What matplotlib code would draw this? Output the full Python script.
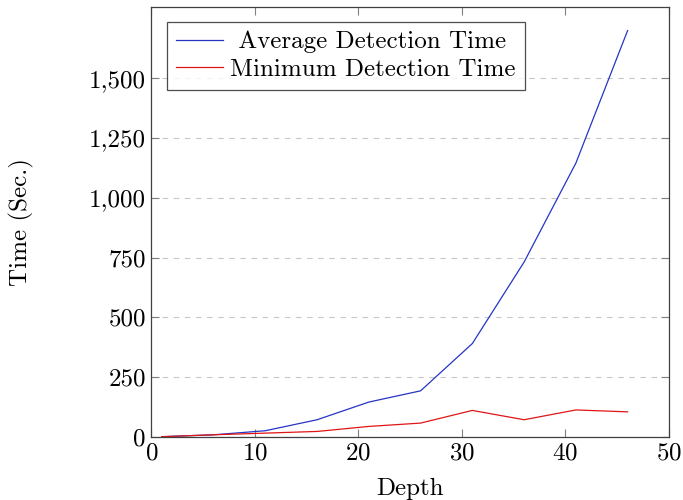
import matplotlib
matplotlib.use('Agg')
import matplotlib.pyplot as plt
from matplotlib.ticker import FuncFormatter, MultipleLocator, FixedLocator

# values
depth = [1, 6, 11, 16, 21, 26, 31, 36, 41, 46]
avg_time = [0, 8, 25, 71, 145, 192, 390, 731, 1145, 1700]
min_time = [0, 8, 15, 22, 43, 57, 110, 71, 112, 104]
y_ticks = [0, 250, 500, 750, 1000, 1250, 1500]

plt.rcParams['font.family'] = ['cmr10', 'DejaVu Serif']
plt.rcParams['axes.formatter.use_mathtext'] = True
plt.rcParams['mathtext.fontset'] = 'cm'

FS = 18

fig = plt.figure(figsize=(6.83, 5.0), dpi=100)
ax = fig.add_axes([0.2218, 0.1266, 0.7577, 0.86])

# leading space roughly centres the shorter legend entry, as in the reference
ax.plot(depth, avg_time, color='#2535c4', linewidth=0.9, label=' Average Detection Time')
ax.plot(depth, min_time, color='#e01515', linewidth=0.9, label='Minimum Detection Time')

ax.set_xlim(0, 50)
ax.set_ylim(0, 1800)
ax.xaxis.set_major_locator(MultipleLocator(10))
ax.yaxis.set_major_locator(FixedLocator(y_ticks))
ax.yaxis.set_major_formatter(FuncFormatter(lambda v, p: f'{v:,.0f}'))

ax.grid(True, axis='y', linestyle=(0, (5, 5)), color='#c8c8c8', linewidth=0.8)
ax.set_axisbelow(True)

ax.tick_params(direction='in', top=True, right=True, length=6, width=0.8,
               color='#808080', labelsize=FS, pad=4)
for sp in ax.spines.values():
    sp.set_color('#404040')
    sp.set_linewidth(0.9)

ax.set_xlabel('Depth', fontsize=FS, labelpad=10)
ax.set_ylabel('Time (Sec.)', fontsize=FS)
ax.yaxis.set_label_coords(-0.227, 0.5)

leg = ax.legend(loc='upper left', bbox_to_anchor=(0.0305, 0.9645), fontsize=FS,
                frameon=True, fancybox=False, edgecolor='#202020',
                handlelength=1.85, handletextpad=0.3, borderpad=0.36,
                labelspacing=0.2, borderaxespad=0)
leg.get_frame().set_linewidth(0.9)

fig.savefig('out.png', dpi=100)
